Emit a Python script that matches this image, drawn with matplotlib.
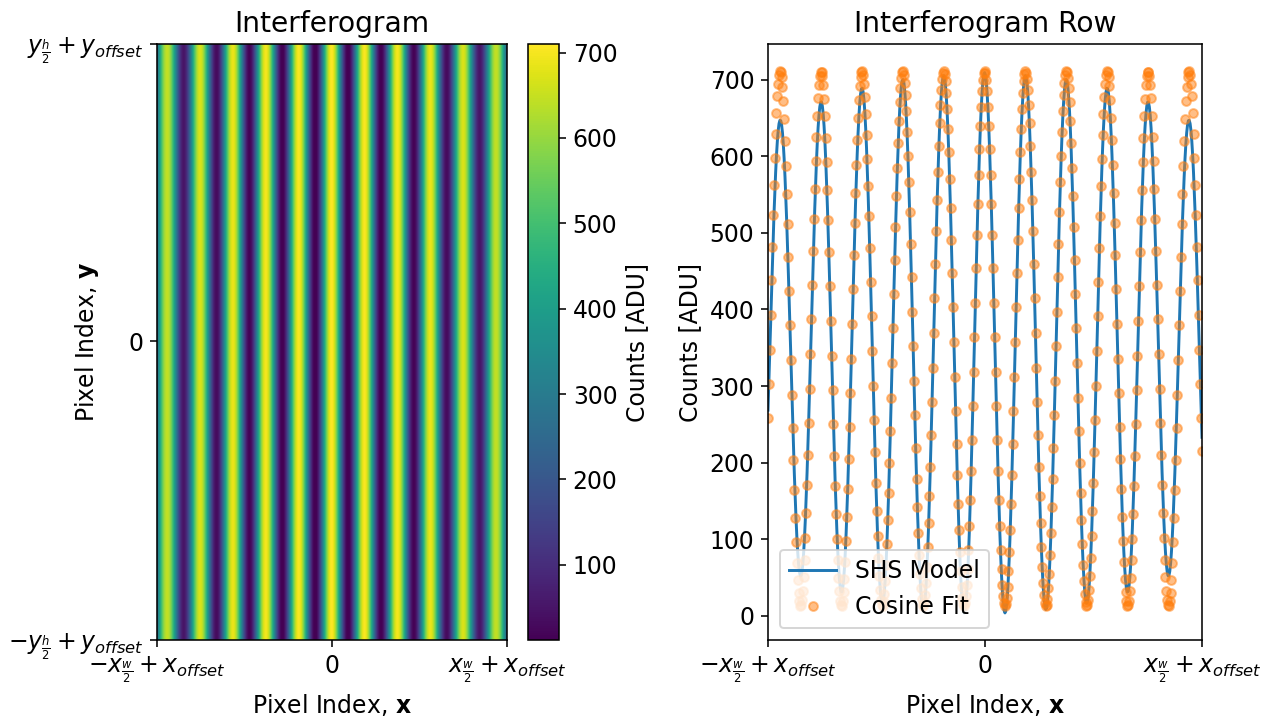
import numpy as np
import matplotlib
matplotlib.use("Agg")
import matplotlib.pyplot as plt

# Detector geometry (pixels) and fringe parameters
n_pix = 512
fringe_period = 48.13      # pixels per fringe
fringe_center = -1.0       # pixel of the central bright fringe

# Bright-fringe heights of the SHS model, fringe -5 ... +5 [ADU]
fringe_order = [-5, -4, -3, -2, -1, 0, 1, 2, 3, 4, 5]
model_peaks = [647, 671, 689, 700, 705, 709, 705, 700, 689, 671, 647]
model_mean = 355.5

# Cosine fit parameters [ADU]
fit_offset = 362.0
fit_amplitude = 349.0

# Colour scale of the interferogram [ADU]
clim = (12, 710)

# Tick labels
x_ticklabels = [r"$-x_{\frac{w}{2}}+x_{offset}$", "0", r"$x_{\frac{w}{2}}+x_{offset}$"]
y_ticklabels = [r"$-y_{\frac{h}{2}}+y_{offset}$", "0", r"$y_{\frac{h}{2}}+y_{offset}$"]

# ---------------------------------------------------------------------------
plt.rcParams["font.size"] = 12

x = np.arange(n_pix) - n_pix // 2
y = np.arange(n_pix) - n_pix // 2
phase = 2 * np.pi * (x - fringe_center) / fringe_period

fringe_pos = fringe_center + np.array(fringe_order) * fringe_period
envelope = np.interp(x, fringe_pos, np.array(model_peaks) - model_mean)
shs_row = model_mean + envelope * np.cos(phase)
fit_row = fit_offset + fit_amplitude * np.cos(phase)
image = np.tile(shs_row, (n_pix, 1))

DPI = 141
W, H = 1271, 728
fig = plt.figure(figsize=(W / DPI, H / DPI), dpi=DPI)

def frac(l, t, r, b):
    return [l / W, 1 - b / H, (r - l) / W, (b - t) / H]

ax1 = fig.add_axes(frac(157, 44, 507, 640))
cax = fig.add_axes(frac(528, 44, 559, 640))
ax2 = fig.add_axes(frac(768, 44, 1202, 640))

im = ax1.imshow(image, cmap="viridis", aspect="auto", origin="lower",
                extent=[x[0], x[-1], y[0], y[-1]], vmin=clim[0], vmax=clim[1])
ax1.set_xticks([x[0], 0, x[-1]])
ax1.set_xticklabels(x_ticklabels)
ax1.set_yticks([y[0], 0, y[-1]])
ax1.set_yticklabels(y_ticklabels)
ax1.set_xlabel(r"Pixel Index, $\mathbf{x}$")
ax1.set_ylabel(r"Pixel Index, $\mathbf{y}$")
ax1.yaxis.set_label_coords(-0.16, 0.5)
ax1.set_title("Interferogram")

cb = fig.colorbar(im, cax=cax)
cb.set_label("Counts [ADU]")

ax2.plot(x, shs_row, color="C0", label="SHS Model")
ax2.plot(x, fit_row, "o", color="C1", ms=4.5, alpha=0.5, label="Cosine Fit")
ax2.set_xlim(x[0], x[-1])
ax2.set_xticks([x[0], 0, x[-1]])
ax2.set_xticklabels(x_ticklabels)
ax2.set_xlabel(r"Pixel Index, $\mathbf{x}$")
ax2.set_ylabel("Counts [ADU]")
ax2.set_title("Interferogram Row")
ax2.legend(loc="lower left")

fig.savefig("out.png", dpi=DPI)
